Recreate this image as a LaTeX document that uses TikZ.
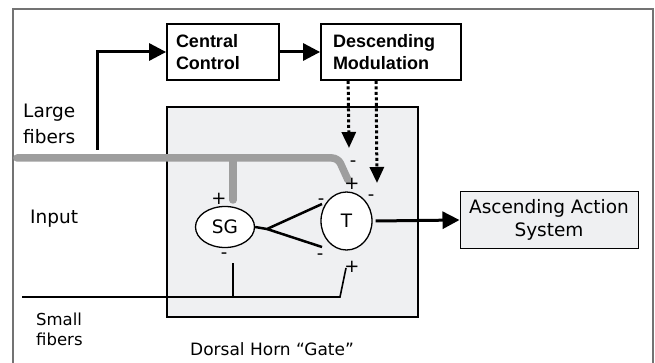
\documentclass[tikz,border=0pt]{standalone}
\usepackage{fontspec}
\setmainfont{DejaVu Sans}
\newfontfamily\boxfont{Liberation Sans}
\usetikzlibrary{arrows.meta,positioning,shapes.geometric}
\definecolor{gatefill}{RGB}{239,240,242}
\definecolor{fibergray}{RGB}{158,158,158}
\definecolor{framegray}{RGB}{115,115,115}

\begin{document}
\begin{tikzpicture}[x=1pt, y=-1pt, >={Triangle[length=17pt,width=17pt]}]
\tikzset{
  ctrl/.style={draw, line width=1.8pt, fill=white, minimum height=56pt, inner xsep=0pt, align=left, font=\boxfont\fontsize{18}{22}\selectfont\bfseries},
  gatebox/.style={draw, line width=2pt, fill=gatefill, minimum width=251pt, minimum height=210pt},
  cell/.style={ellipse, draw, line width=1.3pt, fill=white, inner sep=0pt, font=\fontsize{18.5}{22}\selectfont},
  sign/.style={inner sep=0pt, font=\fontsize{18}{20}\selectfont},
  lbl/.style={inner sep=0pt, align=left, font=\fontsize{18.5}{26}\selectfont},
  fiber/.style={line width=7.5pt, fibergray, line cap=round, rounded corners=6pt},
  nerve/.style={line width=1.6pt},
  link/.style={line width=3pt, ->},
  desc/.style={line width=3pt, dash pattern=on 3pt off 2.5pt, ->, >={Triangle[length=16pt,width=14pt]}}
}
\useasboundingbox (0,0) rectangle (655,363);
% frame
\draw[framegray, line width=1.2pt] (13,363) -- (13,9) -- (653,9) -- (653,363);

% boxes
\node[ctrl, minimum width=112pt, text width=94pt] (cc) at (223,52) {Central\\Control};
\node[ctrl, minimum width=140pt, text width=116pt] (dm) at (391,52) {Descending\\Modulation};
\node[gatebox] (dh) at (292.5,212) {};
\node[draw, line width=1pt, fill=gatefill, minimum width=178pt, minimum height=56pt, align=center, font=\fontsize{18.5}{22.5}\selectfont] (asc) at (549,220) {Ascending Action\\System};

% cells
\node[cell, minimum width=59pt, minimum height=41pt] (sg) at (225,227) {SG};
\node[cell, minimum width=51pt, minimum height=58pt] (t) at (346.5,221) {T};

% fibers
\coordinate (lgin) at (17,158);
\coordinate (lgtap) at (97,150);
\coordinate (lgsg) at (233,200);
\coordinate (lgt) at (348,180);
\coordinate (smin) at (22,297);
\coordinate (smt) at (346,268);
\coordinate (smsg) at (233,263);
\coordinate (fork) at (267,229);
\coordinate (dmin) at (349,148);
\coordinate (dmt) at (377,183);

\draw[fiber] (lgin) -- (338,158) -- (lgt);
\draw[fiber] (233,158) -- (lgsg);
\draw[nerve] (smin) -- (340,297) -- (smt);
\draw[nerve] (233,297) -- (smsg);
\draw[line width=2.5pt] (sg.east) -- (fork) -- (322,204);
\draw[line width=2.5pt] (fork) -- (322,247);

% arrows
\draw[link] (lgtap) |- (cc.west);
\draw[link] (cc.east) -- (dm.west);
\draw[link] ([xshift=3pt]t.east) -- (asc.west);
\draw[desc] ([xshift=28pt]dm.south west) -- (dmin);
\draw[desc] ([xshift=56pt]dm.south west) -- (dmt);

% signs
\node[sign] (s1) at (219,199) {+};
\node[sign] (s2) at (224,256) {-};
\node[sign] (s3) at (321,202) {-};
\node[sign] (s4) at (320,257) {-};
\node[sign] (s5) at (352,184) {+};
\node[sign] (s6) at (371,198) {-};
\node[sign] (s7) at (353,164) {-};
\node[sign] (s8) at (352,267) {+};

% labels
\node[lbl, anchor=north west] (large) at (23,104) {Large\\fibers};
\node[lbl, anchor=base west] (input) at (30,224) {Input};
\node[lbl, anchor=north west, font=\fontsize{16.5}{20}\selectfont] (small) at (36,313) {Small\\fibers};
\node[lbl, anchor=base west, font=\fontsize{17}{20}\selectfont] (gate) at (190,355) {Dorsal Horn “Gate”};
\end{tikzpicture}
\end{document}
